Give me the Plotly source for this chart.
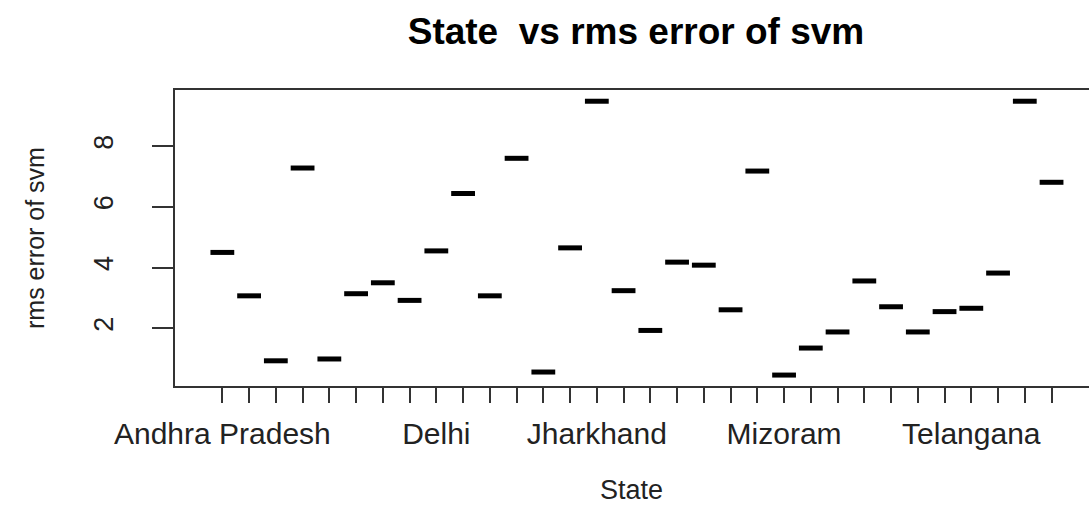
import plotly.graph_objects as go

# States in alphabetical (factor) order
states = [
    "Andhra Pradesh", "Arunachal Pradesh", "Assam", "Bihar", "Chandigarh",
    "Chhattisgarh", "Dadra and Nagar Haveli", "Daman and Diu", "Delhi", "Goa",
    "Gujarat", "Haryana", "Himachal Pradesh", "Jammu and Kashmir", "Jharkhand",
    "Karnataka", "Kerala", "Madhya Pradesh", "Maharashtra", "Manipur",
    "Meghalaya", "Mizoram", "Nagaland", "Odisha", "Puducherry", "Punjab",
    "Rajasthan", "Tamil Nadu", "Telangana", "Tripura", "Uttar Pradesh",
    "West Bengal",
]

# RMS error of the SVM model for each state
rms_error = [
    4.50, 3.07, 0.93, 7.28, 0.99, 3.14, 3.50, 2.92, 4.55, 6.44,
    3.07, 7.60, 0.56, 4.65, 9.48, 3.24, 1.93, 4.18, 4.08, 2.61,
    7.18, 0.46, 1.35, 1.88, 3.56, 2.71, 1.88, 2.55, 2.66, 3.82,
    9.48, 6.81,
]

# Only a subset of the state names fits under the axis
shown_labels = ["Andhra Pradesh", "Delhi", "Jharkhand", "Mizoram", "Telangana"]
tick_text = [s if s in shown_labels else "" for s in states]

y_ticks = [2, 4, 6, 8]

FONT = "Liberation Sans, Arial, sans-serif"
TEXT = "#222222"
AXIS = "#333333"

fig = go.Figure()
fig.add_trace(go.Scatter(
    x=states,
    y=rms_error,
    mode="markers",
    marker=dict(symbol="line-ew", size=17, color="black",
                line=dict(color="black", width=5)),
    showlegend=False,
    hoverinfo="x+y",
))

fig.update_layout(
    width=1089,
    height=508,
    margin=dict(l=175, r=0, t=90, b=122),
    paper_bgcolor="white",
    plot_bgcolor="white",
    font=dict(family=FONT, color=TEXT),
    title=dict(
        text="<b>State\u00a0 vs rms error of svm</b>",
        font=dict(family=FONT, size=37, color="black"),
        x=636 / 1089, xref="container", xanchor="center",
        y=1 - 31 / 508, yref="container", yanchor="middle",
    ),
    xaxis=dict(
        type="category",
        categoryorder="array",
        categoryarray=states,
        range=[-1.77, 32.4],
        tickmode="array",
        tickvals=states,
        ticktext=tick_text,
        ticks="outside",
        ticklen=15,
        tickwidth=2,
        tickcolor=AXIS,
        tickangle=0,
        tickfont=dict(family=FONT, size=30, color=TEXT),
        ticklabelstandoff=5,
        showline=True,
        linecolor=AXIS,
        linewidth=2,
        mirror=True,
        showgrid=False,
        zeroline=False,
    ),
    yaxis=dict(
        range=[0.10, 9.85],
        tickmode="array",
        tickvals=y_ticks,
        ticktext=[str(v) for v in y_ticks],
        ticks="outside",
        ticklen=21,
        tickwidth=2,
        tickcolor=AXIS,
        tickangle=-90,
        tickfont=dict(family=FONT, size=27, color=TEXT),
        ticklabelstandoff=28,
        showline=True,
        linecolor=AXIS,
        linewidth=2,
        showgrid=False,
        zeroline=False,
    ),
    annotations=[
        dict(text="State", xref="paper", yref="paper",
             x=(631 - 175) / 914, y=-(490 - 386) / 296,
             xanchor="center", yanchor="middle", showarrow=False,
             font=dict(family=FONT, size=27, color=TEXT)),
        dict(text="rms error of svm", xref="paper", yref="paper",
             x=-(175 - 35) / 914, y=0.5, textangle=-90,
             xanchor="center", yanchor="middle", showarrow=False,
             font=dict(family=FONT, size=25, color=TEXT)),
    ],
)

fig.write_html("out.html")
